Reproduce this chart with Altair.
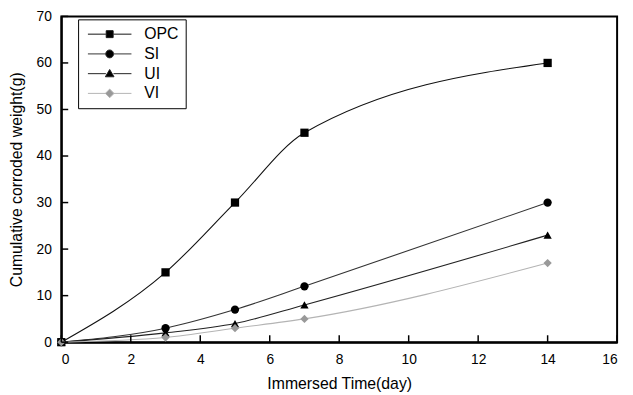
import altair as alt
import pandas as pd

# ---- data ----
days = [0, 3, 5, 7, 14]
opc = [0, 15, 30, 45, 60]
si = [0, 3, 7, 12, 30]
ui = [0, 2, 4, 8, 23]
vi = [0, 1, 3, 5, 17]
series = ["OPC", "SI", "UI", "VI"]
x_ticks = [0, 2, 4, 6, 8, 10, 12, 14, 16]
y_ticks = [0, 10, 20, 30, 40, 50, 60, 70]

rows = []
for name, vals in zip(series, [opc, si, ui, vi]):
    for d, v in zip(days, vals):
        rows.append({"day": d, "weight": v, "series": name})
df = pd.DataFrame(rows)

W, H = 563, 330
FONT = "Liberation Sans"
xs = alt.Scale(domain=[0, 16], nice=False, zero=False)
ys = alt.Scale(domain=[0, 70], nice=False, zero=False)

line_colors = ["#111111", "#333333", "#222222", "#b4b4b4"]
point_colors = ["#000000", "#000000", "#000000", "#999999"]
shapes = ["square", "circle", "triangle-up", "diamond"]

seg = "M-6.3,0L-1.1,0M1.1,0L6.3,0"
legend_paths = [
    seg + "M-1,-1L1,-1L1,1L-1,1Z",
    seg + "M-1.15,0A1.15,1.15 0 1,0 1.15,0A1.15,1.15 0 1,0 -1.15,0Z",
    seg + "M0,-1.2L1.25,0.9L-1.25,0.9Z",
    seg + "M0,-1.25L1.25,0L0,1.25L-1.25,0Z",
]

x_axis = alt.Axis(values=x_ticks, ticks=False, grid=False, title="Immersed Time(day)",
                  labelPadding=11, titlePadding=9, domainWidth=2, domainColor="black")
y_axis = alt.Axis(values=y_ticks, ticks=False, grid=False, title="Cumulative corroded weight(g)",
                  labelPadding=10, titlePadding=12, domainWidth=2, domainColor="black")

base = alt.Chart(df)

lines = base.mark_line(interpolate="monotone", strokeWidth=1.1).encode(
    x=alt.X("day:Q", scale=xs, axis=x_axis),
    y=alt.Y("weight:Q", scale=ys, axis=y_axis),
    color=alt.Color("series:N", scale=alt.Scale(domain=series, range=line_colors), legend=None),
)

points = base.mark_point(filled=True, size=70, opacity=1).encode(
    x=alt.X("day:Q", scale=xs, axis=x_axis),
    y=alt.Y("weight:Q", scale=ys, axis=y_axis),
    color=alt.Color("series:N", scale=alt.Scale(domain=series, range=point_colors), legend=None),
    shape=alt.Shape("series:N", scale=alt.Scale(domain=series, range=shapes), legend=None),
)

leg = dict(title=None, orient="none", legendX=17, legendY=3, strokeColor="black",
           fillColor="white", padding=7, symbolSize=49, symbolStrokeWidth=1,
           symbolOffset=17, labelFont=FONT, labelFontSize=16, labelColor="black",
           labelOffset=27, rowPadding=4)

legend_layer = base.transform_filter("datum.day < 0").mark_point(
    filled=True, size=49, opacity=1, strokeWidth=1
).encode(
    x=alt.X("day:Q", scale=xs, axis=x_axis),
    y=alt.Y("weight:Q", scale=ys, axis=y_axis),
    shape=alt.Shape("series:N", scale=alt.Scale(domain=series, range=legend_paths), legend=alt.Legend(**leg)),
    fill=alt.Fill("series:N", scale=alt.Scale(domain=series, range=point_colors), legend=alt.Legend(**leg)),
    stroke=alt.Stroke("series:N", scale=alt.Scale(domain=series, range=line_colors), legend=alt.Legend(**leg)),
)

xt = pd.DataFrame({"t": x_ticks})
yt = pd.DataFrame({"t": y_ticks})
xtick_layer = alt.Chart(xt).mark_rule(color="black", strokeWidth=1.5).encode(
    x=alt.X("t:Q", scale=xs, axis=x_axis), y=alt.value(H), y2=alt.value(H - 7)
)
ytick_layer = alt.Chart(yt).mark_rule(color="black", strokeWidth=1.5).encode(
    y=alt.Y("t:Q", scale=ys, axis=y_axis), x=alt.value(0), x2=alt.value(7)
)

chart = alt.layer(lines, points, legend_layer, xtick_layer, ytick_layer).resolve_scale(
    color="independent", shape="independent", fill="independent", stroke="independent"
).properties(
    width=W, height=H,
    autosize=alt.AutoSizeParams(type="none"),
    padding={"left": 54, "top": 6, "right": 8, "bottom": 51},
).configure_view(
    stroke="black", strokeWidth=2
).configure_axis(
    labelFont=FONT, labelFontSize=14, labelColor="black",
    titleFont=FONT, titleFontSize=16, titleFontWeight="normal", titleColor="black",
)

chart.save("out.html", embed_options={"renderer": "svg", "actions": False})
